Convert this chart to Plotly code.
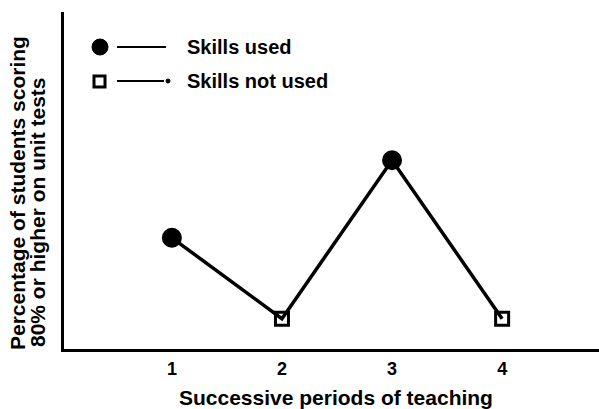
import plotly.graph_objects as go

# ── data ────────────────────────────────────────────────
periods = [1, 2, 3, 4]
pct_scoring = [33, 9, 56, 9]
skills_used = [True, False, True, False]
tick_labels = ["1", "2", "3", "4"]

# ── layout constants ────────────────────────────────────
W, H = 599, 409
L, R, T, B = 64, 0, 12, 60
FONT = "Liberation Sans, Arial, sans-serif"
INK = "#000000"


def px(x):
    return (x - L) / (W - L - R)


def py(y):
    return (H - B - y) / (H - T - B)


symbols = ["circle" if u else "square-open" for u in skills_used]
sizes = [17 if u else 13 for u in skills_used]

fig = go.Figure(go.Scatter(
    x=periods,
    y=pct_scoring,
    mode="lines+markers",
    opacity=1,
    line={"color": INK, "width": 3.5},
    marker={"symbol": symbols, "size": sizes, "color": INK, "opacity": 1,
            "line": {"color": INK, "width": 3}},
    showlegend=False,
    cliponaxis=False,
))

# hand-drawn style legend
shapes = [
    dict(type="circle", xref="paper", yref="paper",
         x0=px(92), x1=px(108), y0=py(55), y1=py(39),
         fillcolor=INK, line={"color": INK, "width": 1}),
    dict(type="line", xref="paper", yref="paper",
         x0=px(117), x1=px(166), y0=py(47), y1=py(47),
         line={"color": INK, "width": 2}),
    dict(type="rect", xref="paper", yref="paper",
         x0=px(94), x1=px(105), y0=py(87), y1=py(76),
         fillcolor="white", line={"color": INK, "width": 3}),
    dict(type="line", xref="paper", yref="paper",
         x0=px(117), x1=px(164), y0=py(81), y1=py(81),
         line={"color": INK, "width": 2}),
    dict(type="circle", xref="paper", yref="paper",
         x0=px(166), x1=px(170), y0=py(83), y1=py(79),
         fillcolor=INK, line={"color": INK, "width": 1}),
]


def label(text, x, y, size, angle=0, anchor="left"):
    return dict(text=f"<b>{text}</b>", xref="paper", yref="paper",
                x=px(x), y=py(y), xanchor=anchor, yanchor="middle",
                textangle=angle, showarrow=False,
                font={"size": size, "color": INK, "family": FONT})


annotations = [
    label("Skills used", 185, 47, 20),
    label("Skills not used", 185, 81, 20),
    label("Successive periods of teaching", 336, 397, 21, anchor="center"),
    label("Percentage of students scoring", 17, 193, 21, angle=-90, anchor="center"),
    label("80% or higher on unit tests", 37, 212, 21, angle=-90, anchor="center"),
]

fig.update_layout(
    width=W, height=H,
    margin=dict(l=L, r=R, t=T, b=B),
    paper_bgcolor="white",
    plot_bgcolor="white",
    font={"family": FONT, "color": INK},
    showlegend=False,
    shapes=shapes,
    annotations=annotations,
    xaxis={
        "range": [0.02, 4.88],
        "tickvals": periods,
        "ticktext": [f"<b>{t}</b>" for t in tick_labels],
        "tickfont": {"size": 18, "color": INK},
        "ticks": "",
        "ticklabelstandoff": 1,
        "showgrid": False,
        "zeroline": False,
        "showline": True,
        "linecolor": INK,
        "linewidth": 3,
    },
    yaxis={
        "range": [0, 100],
        "showticklabels": False,
        "ticks": "",
        "showgrid": False,
        "zeroline": False,
        "showline": True,
        "linecolor": INK,
        "linewidth": 3,
    },
)

fig.write_html("out.html", config={"displayModeBar": False},
               post_script="document.body.style.margin='0';")
